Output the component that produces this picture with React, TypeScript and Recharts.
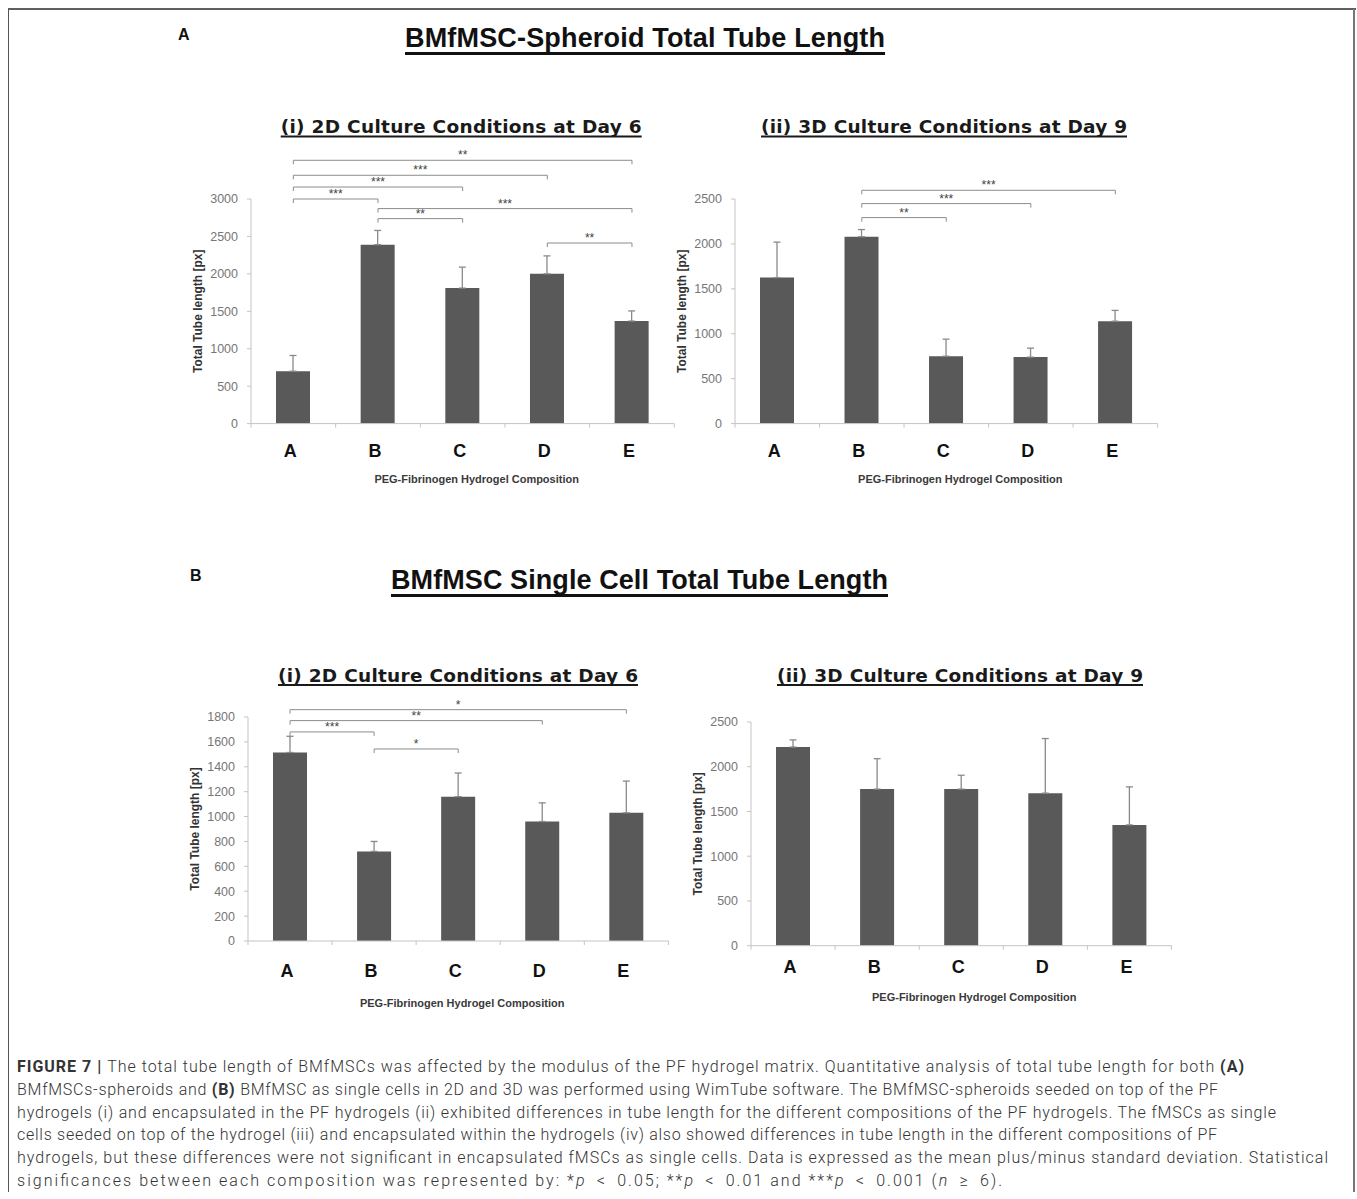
import React from 'react';
import { BarChart, Bar, XAxis, YAxis, ErrorBar, ReferenceLine, Label } from 'recharts';

const categories = ['A', 'B', 'C', 'D', 'E'];

// (A) spheroids
const spheroid2D = [700, 2390, 1810, 2000, 1370];
const spheroid2DSd = [210, 190, 280, 240, 135];
const spheroid3D = [1625, 2080, 750, 740, 1140];
const spheroid3DSd = [395, 80, 190, 100, 120];

// (B) single cells
const single2D = [1515, 720, 1160, 960, 1030];
const single2DSd = [130, 80, 190, 150, 255];
const single3D = [2220, 1750, 1750, 1705, 1350];
const single3DSd = [80, 340, 155, 610, 425];

const ticks3000 = [0, 500, 1000, 1500, 2000, 2500, 3000];
const ticks2500 = [0, 500, 1000, 1500, 2000, 2500];
const ticks1800 = [0, 200, 400, 600, 800, 1000, 1200, 1400, 1600, 1800];

type Sig = { from: string; to: string; y: number; label: string };

const spheroid2DSig: Sig[] = [
  { from: 'A', to: 'E', y: 3517, label: '**' },
  { from: 'A', to: 'D', y: 3317, label: '***' },
  { from: 'A', to: 'C', y: 3160, label: '***' },
  { from: 'A', to: 'B', y: 3000, label: '***' },
  { from: 'B', to: 'E', y: 2872, label: '***' },
  { from: 'B', to: 'C', y: 2738, label: '**' },
  { from: 'D', to: 'E', y: 2412, label: '**' },
];
const spheroid3DSig: Sig[] = [
  { from: 'B', to: 'E', y: 2597, label: '***' },
  { from: 'B', to: 'D', y: 2449, label: '***' },
  { from: 'B', to: 'C', y: 2293, label: '**' },
];
const single2DSig: Sig[] = [
  { from: 'A', to: 'E', y: 1859, label: '*' },
  { from: 'A', to: 'D', y: 1771, label: '**' },
  { from: 'A', to: 'B', y: 1680, label: '***' },
  { from: 'B', to: 'C', y: 1543, label: '*' },
];

const FONT = '"Liberation Sans", Arial, Helvetica, sans-serif';
const AXIS = '#c4c4c4';
const BAR = '#595959';
const Y_W = 110;
const PAD_T = 80;
const PAD_R = 10;
const X_H = 80;

const bracket = (label: string) => (p: any) => {
  const { x1, y1, x2 } = p;
  return (
    <g>
      <path d={`M${x1},${y1 + 4}V${y1}H${x2}V${y1 + 4}`} fill="none" stroke="#8c8c8c" strokeWidth={1} />
      <text x={(x1 + x2) / 2} y={y1 - 1} textAnchor="middle" fontSize={12} fill="#444" fontFamily={FONT}>
        {label}
      </text>
    </g>
  );
};

const CategoryTick = (props: any) => {
  const { x, y, payload, index, dy, half } = props;
  return (
    <g>
      <line x1={x - half} x2={x - half} y1={y} y2={y + 4} stroke={AXIS} />
      {index === categories.length - 1 && <line x1={x + half} x2={x + half} y1={y} y2={y + 4} stroke={AXIS} />}
      <text x={x - 3} y={y + dy} textAnchor="middle" fontSize={18} fontWeight="bold" fill="#111" fontFamily={FONT}>
        {payload.value}
      </text>
    </g>
  );
};

type PanelProps = {
  left: number;
  right: number;
  top: number;
  bottom: number;
  values: number[];
  sd: number[];
  ticks: number[];
  sig: Sig[];
  catDy: number;
  titleDx: number;
  titleDy: number;
};

function Panel({ left, right, top, bottom, values, sd, ticks, sig, catDy, titleDx, titleDy }: PanelProps) {
  const data = categories.map((name, i) => ({ name, value: values[i], err: [0, sd[i]] }));
  const max = ticks[ticks.length - 1];
  const half = (right - left) / categories.length / 2;
  const width = Y_W + (right - left) + PAD_R;
  const height = PAD_T + (bottom - top) + X_H;

  return (
    <div style={{ position: 'absolute', left: left - Y_W, top: top - PAD_T }}>
      <BarChart width={width} height={height} data={data} margin={{ top: PAD_T, right: PAD_R, bottom: 0, left: 0 }}>
        <XAxis
          dataKey="name"
          height={X_H}
          interval={0}
          tickLine={false}
          tickSize={0}
          tickMargin={0}
          axisLine={{ stroke: AXIS }}
          tick={(p: any) => <CategoryTick {...p} dy={catDy} half={half} />}
        >
          <Label
            content={({ viewBox }: any) => (
              <text
                x={viewBox.x + viewBox.width / 2 + titleDx}
                y={viewBox.y + titleDy}
                textAnchor="middle"
                fontSize={11}
                fontWeight="bold"
                fill="#3a3a3a"
                fontFamily={FONT}
              >
                PEG-Fibrinogen Hydrogel Composition
              </text>
            )}
          />
        </XAxis>
        <YAxis
          type="number"
          width={Y_W}
          domain={[0, max]}
          ticks={ticks}
          interval={0}
          allowDataOverflow
          tickSize={4}
          tickMargin={9}
          axisLine={{ stroke: AXIS }}
          tickLine={{ stroke: AXIS }}
          tick={{ fontSize: 12.5, fill: '#767676', fontFamily: FONT }}
        >
          <Label
            content={({ viewBox }: any) => {
              const cx = viewBox.x + viewBox.width - 53;
              const cy = viewBox.y + viewBox.height / 2;
              return (
                <text
                  x={cx}
                  y={cy}
                  transform={`rotate(-90 ${cx} ${cy})`}
                  textAnchor="middle"
                  dominantBaseline="central"
                  fontSize={12}
                  fontWeight="bold"
                  fill="#333"
                  fontFamily={FONT}
                >
                  Total Tube length [px]
                </text>
              );
            }}
          />
        </YAxis>
        <Bar dataKey="value" fill={BAR} barSize={34} isAnimationActive={false}>
          <ErrorBar dataKey="err" direction="y" width={3.5} stroke="#8a8a8a" strokeWidth={1.3} isAnimationActive={false} />
        </Bar>
        {sig.map((s, i) => (
          <ReferenceLine
            key={i}
            segment={[
              { x: s.from, y: s.y },
              { x: s.to, y: s.y },
            ]}
            ifOverflow="visible"
            stroke="#8c8c8c"
            shape={bracket(s.label)}
          />
        ))}
      </BarChart>
    </div>
  );
}

const TITLE_FONT = '"DejaVu Sans", Verdana, sans-serif';

function PanelTitle({ x, y, w, text }: { x: number; y: number; w: number; text: string }) {
  return (
    <g>
      <text x={x} y={y} textLength={w} lengthAdjust="spacing" fontSize={18.5} fontWeight="bold" fill="#1a1a1a" fontFamily={TITLE_FONT}>
        {text}
      </text>
      <rect x={x} y={y + 2.5} width={w} height={2} fill="#1a1a1a" />
    </g>
  );
}

function MainTitle({ x, y, w, text }: { x: number; y: number; w: number; text: string }) {
  return (
    <g>
      <text x={x} y={y} textLength={w} lengthAdjust="spacing" fontSize={27} fontWeight="bold" fill="#111" fontFamily={FONT}>
        {text}
      </text>
      <rect x={x} y={y + 5} width={w} height={3} fill="#111" />
    </g>
  );
}

const CAP_FONT = 'Roboto, "Liberation Sans", Arial, sans-serif';
const SP = '\u2002';

export default function App() {
  const capY = (i: number) => 1072 + i * 22.8;
  const capProps = { fontSize: 16, fill: '#333', fontFamily: CAP_FONT, fontWeight: 300, lengthAdjust: 'spacing' as const };
  return (
    <div style={{ position: 'absolute', left: 0, top: 0, width: 1357, height: 1199, background: '#fff', overflow: 'hidden' }}>
      <Panel left={250.7} right={674} top={198.7} bottom={423.3} values={spheroid2D} sd={spheroid2DSd} ticks={ticks3000} sig={spheroid2DSig} catDy={33} titleDx={14} titleDy={59} />
      <Panel left={735} right={1157.6} top={198.7} bottom={423.3} values={spheroid3D} sd={spheroid3DSd} ticks={ticks2500} sig={spheroid3DSig} catDy={33} titleDx={14} titleDy={59} />
      <Panel left={247.6} right={668} top={716.7} bottom={940.7} values={single2D} sd={single2DSd} ticks={ticks1800} sig={single2DSig} catDy={35.7} titleDx={4} titleDy={66} />
      <Panel left={750.9} right={1171.4} top={722.3} bottom={946} values={single3D} sd={single3DSd} ticks={ticks2500} sig={[]} catDy={27.5} titleDx={13} titleDy={55.3} />

      <svg width={1357} height={1199} style={{ position: 'absolute', left: 0, top: 0, pointerEvents: 'none' }}>
        {/* figure frame */}
        <line x1={8} x2={1356} y1={9} y2={9} stroke="#606060" strokeWidth={2} />
        <line x1={8.5} x2={8.5} y1={9} y2={1192} stroke="#555" strokeWidth={1} />
        <line x1={1354} x2={1354} y1={9} y2={1192} stroke="#777" strokeWidth={2} />

        <text x={178} y={40} fontSize={16} fontWeight="bold" fill="#111" fontFamily={FONT}>A</text>
        <MainTitle x={405} y={47} w={480} text="BMfMSC-Spheroid Total Tube Length" />
        <PanelTitle x={280.7} y={133} w={361} text="(i) 2D Culture Conditions at Day 6" />
        <PanelTitle x={761} y={133} w={366} text="(ii) 3D Culture Conditions at Day 9" />

        <text x={190} y={581} fontSize={16} fontWeight="bold" fill="#111" fontFamily={FONT}>B</text>
        <MainTitle x={391} y={589} w={497} text="BMfMSC Single Cell Total Tube Length" />
        <PanelTitle x={278} y={681.5} w={360} text="(i) 2D Culture Conditions at Day 6" />
        <PanelTitle x={777} y={681.5} w={366} text="(ii) 3D Culture Conditions at Day 9" />

        <text x={17} y={capY(0)} textLength={1227} {...capProps}>
          <tspan fontWeight={700}>FIGURE 7 | </tspan>
          The total tube length of BMfMSCs was affected by the modulus of the PF hydrogel matrix. Quantitative analysis of total tube length for both{' '}
          <tspan fontWeight={700}>(A)</tspan>
        </text>
        <text x={17} y={capY(1)} textLength={1201} {...capProps}>
          BMfMSCs-spheroids and <tspan fontWeight={700}>(B)</tspan> BMfMSC as single cells in 2D and 3D was performed using WimTube software. The BMfMSC-spheroids seeded on top of the PF
        </text>
        <text x={17} y={capY(2)} textLength={1259} {...capProps}>
          hydrogels (i) and encapsulated in the PF hydrogels (ii) exhibited differences in tube length for the different compositions of the PF hydrogels. The fMSCs as single
        </text>
        <text x={17} y={capY(3)} textLength={1200} {...capProps}>
          cells seeded on top of the hydrogel (iii) and encapsulated within the hydrogels (iv) also showed differences in tube length in the different compositions of PF
        </text>
        <text x={17} y={capY(4)} textLength={1311} {...capProps}>
          hydrogels, but these differences were not significant in encapsulated fMSCs as single cells. Data is expressed as the mean plus/minus standard deviation. Statistical
        </text>
        <text x={17} y={capY(5)} textLength={985} {...capProps}>
          {`significances between each composition was represented by: *`}
          <tspan fontStyle="italic">p</tspan>
          {`${SP}<${SP}0.05; **`}
          <tspan fontStyle="italic">p</tspan>
          {`${SP}<${SP}0.01 and ***`}
          <tspan fontStyle="italic">p</tspan>
          {`${SP}<${SP}0.001 (`}
          <tspan fontStyle="italic">n</tspan>
          {`${SP}≥${SP}6).`}
        </text>
      </svg>
    </div>
  );
}
